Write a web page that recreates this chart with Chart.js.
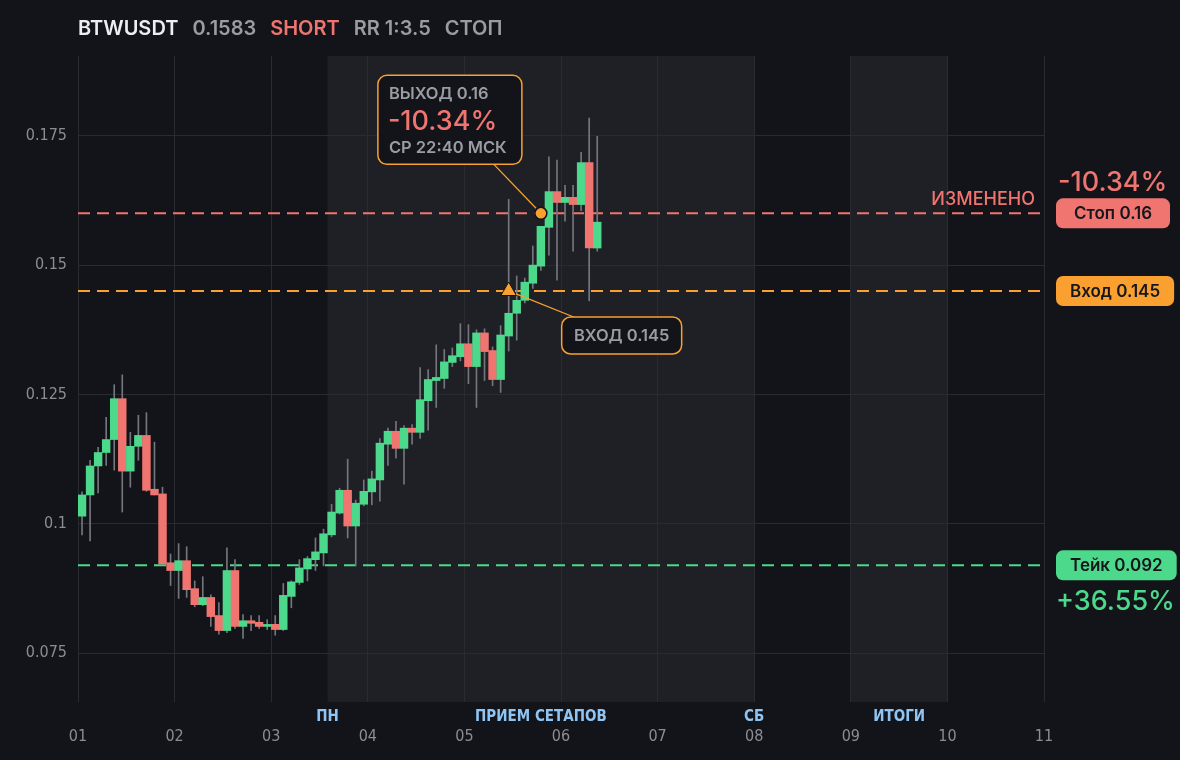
<!DOCTYPE html>
<html>
<head>
<meta charset="utf-8">
<title>BTWUSDT</title>
<script src="https://cdn.jsdelivr.net/npm/chart.js@4.4.1/dist/chart.umd.min.js"></script>
<style>
  html, body { margin: 0; padding: 0; background: #131419; }
  #wrap { position: relative; width: 1180px; height: 760px; }
</style>
</head>
<body>
<div id="wrap"><canvas id="chart"></canvas></div>
<script>
// header
const symbol = 'BTWUSDT';
const lastPrice = '0.1583';
const side = 'SHORT';
const riskReward = 'RR 1:3.5';
const tradeStatus = 'СТОП';

// 2h candles, day 01 .. day 06
const opens = [0.1015, 0.1056, 0.1112, 0.1138, 0.1163, 0.1242, 0.1102, 0.1150, 0.1171, 0.1067,
  0.1058, 0.0925, 0.0910, 0.0929, 0.0875, 0.0844, 0.0858, 0.0823, 0.0794, 0.0910,
  0.0802, 0.0813, 0.0810, 0.0802, 0.0806, 0.0796, 0.0860, 0.0887, 0.0913, 0.0931,
  0.0944, 0.0979, 0.1021, 0.1065, 0.0996, 0.1038, 0.1062, 0.1085, 0.1154, 0.1179,
  0.1146, 0.1185, 0.1177, 0.1238, 0.1277, 0.1281, 0.1312, 0.1323, 0.1348, 0.1304,
  0.1369, 0.1335, 0.1279, 0.1363, 0.1407, 0.1432, 0.1465, 0.1498, 0.1573, 0.1642,
  0.1621, 0.1631, 0.1617, 0.1698, 0.1533];
const highs = [0.1062, 0.1123, 0.1148, 0.1206, 0.1269, 0.1288, 0.1177, 0.1210, 0.1215, 0.1158,
  0.1071, 0.0942, 0.0962, 0.0956, 0.0890, 0.0898, 0.0863, 0.0848, 0.0954, 0.0931,
  0.0825, 0.0823, 0.0823, 0.0815, 0.0823, 0.0885, 0.0890, 0.0931, 0.0937, 0.0973,
  0.0990, 0.1038, 0.1069, 0.1125, 0.1046, 0.1085, 0.1102, 0.1165, 0.1185, 0.1198,
  0.1190, 0.1192, 0.1302, 0.1298, 0.1346, 0.1337, 0.1340, 0.1387, 0.1385, 0.1375,
  0.1377, 0.1342, 0.1383, 0.1627, 0.1479, 0.1475, 0.1537, 0.1575, 0.1709, 0.1703,
  0.1654, 0.1654, 0.1718, 0.1784, 0.1749];
const lows = [0.0979, 0.0967, 0.1060, 0.1113, 0.1104, 0.1023, 0.1071, 0.1123, 0.1063, 0.1056,
  0.0923, 0.0881, 0.0856, 0.0858, 0.0840, 0.0842, 0.0802, 0.0787, 0.0790, 0.0798,
  0.0779, 0.0794, 0.0798, 0.0796, 0.0785, 0.0794, 0.0838, 0.0883, 0.0890, 0.0910,
  0.0919, 0.0975, 0.1019, 0.0973, 0.0919, 0.1035, 0.1037, 0.1044, 0.1113, 0.1127,
  0.1077, 0.1154, 0.1165, 0.1181, 0.1225, 0.1262, 0.1304, 0.1315, 0.1271, 0.1225,
  0.1277, 0.1267, 0.1254, 0.1334, 0.1355, 0.1427, 0.1455, 0.1490, 0.1519, 0.1471,
  0.1585, 0.1527, 0.1605, 0.1431, 0.1527];
const closes = [0.1056, 0.1112, 0.1138, 0.1163, 0.1242, 0.1102, 0.1150, 0.1171, 0.1065, 0.1056,
  0.0923, 0.0910, 0.0929, 0.0873, 0.0844, 0.0858, 0.0821, 0.0794, 0.0910, 0.0802,
  0.0813, 0.0808, 0.0802, 0.0805, 0.0796, 0.0862, 0.0888, 0.0915, 0.0933, 0.0946,
  0.0981, 0.1023, 0.1065, 0.0996, 0.1040, 0.1063, 0.1087, 0.1156, 0.1179, 0.1146,
  0.1185, 0.1177, 0.1240, 0.1279, 0.1283, 0.1313, 0.1325, 0.1348, 0.1304, 0.1369,
  0.1333, 0.1279, 0.1365, 0.1407, 0.1432, 0.1467, 0.1500, 0.1575, 0.1642, 0.1621,
  0.1631, 0.1617, 0.1698, 0.1533, 0.1583];

const dayTicks = [1, 2, 3, 4, 5, 6, 7, 8, 9, 10, 11];
const priceTicks = [0.075, 0.1, 0.125, 0.15, 0.175];

// trade levels
const stopPrice = 0.16;
const entryPrice = 0.145;
const takePrice = 0.092;
const entryCandle = 53;
const exitCandle = 57;
const stopChange = '-10.34%';
const takeChange = '+36.55%';
const exitTime = 'СР 22:40 МСК';

// week sessions on the time axis
const sessionStarts = [3 + 7 / 12, 9];
const sessionEnds = [8, 10];
const sessionNames = ['ПРИЕМ СЕТАПОВ', 'ИТОГИ'];
const sessionStartNames = ['ПН', ''];
const sessionEndNames = ['СБ', ''];

const GREEN = '#4cd98b';
const RED = '#f07570';
const ORANGE = '#f9a030';
const GRAY = '#9a9ca3';
const BG = '#131419';
const TICK_FONT = '"Liberation Sans Narrow", "DejaVu Sans Condensed", Roboto, sans-serif';

const candleTimes = opens.map((o, i) => 1 + (i + 0.5) / 12);
const bodyColors = opens.map((o, i) => closes[i] >= o ? GREEN : RED);

function levelLine(price, color) {
  return {
    type: 'line',
    data: [{ x: 1, y: price }, { x: 11, y: price }],
    borderColor: color,
    borderWidth: 2,
    borderDash: [12, 7],
    pointRadius: 0,
    order: 3
  };
}

function roundRect(ctx, x, y, w, h, r) {
  ctx.beginPath();
  ctx.moveTo(x + r, y);
  ctx.arcTo(x + w, y, x + w, y + h, r);
  ctx.arcTo(x + w, y + h, x, y + h, r);
  ctx.arcTo(x, y + h, x, y, r);
  ctx.arcTo(x, y, x + w, y, r);
  ctx.closePath();
}

function connector(ctx, x0, y0, x1, y1, gap) {
  const len = Math.hypot(x1 - x0, y1 - y0);
  const ex = x1 - (x1 - x0) / len * gap;
  const ey = y1 - (y1 - y0) / len * gap;
  ctx.beginPath();
  ctx.moveTo(x0, y0);
  ctx.lineTo(ex, ey);
  ctx.stroke();
}

const decor = {
  id: 'decor',
  beforeDraw(chart) {
    const { ctx, chartArea: a, scales: { x } } = chart;
    ctx.save();
    ctx.fillStyle = '#1f2026';
    sessionStarts.forEach((s, i) => {
      const x0 = x.getPixelForValue(s);
      const x1 = x.getPixelForValue(sessionEnds[i]);
      ctx.fillRect(x0, a.top, x1 - x0, a.bottom - a.top);
    });
    ctx.restore();
  },
  afterDatasetsDraw(chart) {
    const { ctx, scales: { x, y } } = chart;
    const ex = x.getPixelForValue(candleTimes[exitCandle]);
    const ey = y.getPixelForValue(stopPrice);
    const nx = x.getPixelForValue(candleTimes[entryCandle]);
    const ny = y.getPixelForValue(entryPrice);
    ctx.save();
    ctx.strokeStyle = ORANGE;
    ctx.lineWidth = 1.3;
    connector(ctx, ex - 47, ey - 49, ex, ey, 7);
    connector(ctx, nx + 65, ny + 26, nx, ny, 8);
    ctx.restore();
  },
  afterDraw(chart) {
    const { ctx, chartArea: a, scales: { x, y } } = chart;
    ctx.save();
    ctx.textBaseline = 'middle';

    // header
    let hx = 78;
    ctx.font = '600 20px Inter';
    [[symbol, '#eceef2'], [lastPrice, GRAY], [side, RED], [riskReward, GRAY], [tradeStatus, GRAY]].forEach(([t, c]) => {
      ctx.fillStyle = c;
      ctx.textAlign = 'left';
      ctx.fillText(t, hx, 29);
      hx += ctx.measureText(t).width + 14;
    });

    // session labels under the plot
    ctx.font = 'bold 15px ' + TICK_FONT;
    ctx.fillStyle = '#8ec5f5';
    ctx.textAlign = 'center';
    sessionStarts.forEach((s, i) => {
      const x0 = x.getPixelForValue(s);
      const x1 = x.getPixelForValue(sessionEnds[i]);
      ctx.fillText(sessionNames[i], (x0 + x1) / 2, 717);
      if (sessionStartNames[i]) ctx.fillText(sessionStartNames[i], x0, 717);
      if (sessionEndNames[i]) ctx.fillText(sessionEndNames[i], x1, 717);
    });

    // right side price tags
    const px = a.right + 12;
    const sy = y.getPixelForValue(stopPrice);
    const ny = y.getPixelForValue(entryPrice);
    const ty = y.getPixelForValue(takePrice);
    ctx.font = '600 17px Inter';
    [['Стоп ' + stopPrice, sy, RED], ['Вход ' + entryPrice, ny, ORANGE], ['Тейк ' + takePrice, ty, GREEN]].forEach(([t, py, c]) => {
      const w = Math.max(114, ctx.measureText(t).width + 28);
      ctx.fillStyle = c;
      roundRect(ctx, px, py - 15, w, 30, 7);
      ctx.fill();
      ctx.fillStyle = '#16171c';
      ctx.textAlign = 'center';
      ctx.fillText(t, px + w / 2, py + 1);
    });
    ctx.font = '500 27px Inter';
    ctx.textAlign = 'left';
    ctx.fillStyle = RED;
    ctx.fillText(stopChange, px + 2, sy - 30);
    ctx.fillStyle = GREEN;
    ctx.fillText(takeChange, px, ty + 37);
    ctx.font = '500 18px Inter';
    ctx.fillStyle = RED;
    ctx.textAlign = 'right';
    ctx.fillText('ИЗМЕНЕНО', a.right - 9, sy - 14);

    // exit callout
    const ex = x.getPixelForValue(candleTimes[exitCandle]);
    const bx = ex - 163, by = sy - 138;
    roundRect(ctx, bx, by, 144, 89, 9);
    ctx.fillStyle = BG;
    ctx.fill();
    ctx.strokeStyle = ORANGE;
    ctx.lineWidth = 1.5;
    ctx.stroke();
    ctx.textAlign = 'left';
    ctx.font = '600 16.5px Inter';
    ctx.fillStyle = GRAY;
    ctx.fillText('ВЫХОД ' + stopPrice, bx + 11, by + 19);
    ctx.font = '500 27px Inter';
    ctx.fillStyle = RED;
    ctx.fillText(stopChange, bx + 10, by + 47);
    ctx.font = '600 16.5px Inter';
    ctx.fillStyle = GRAY;
    ctx.fillText(exitTime, bx + 11, by + 73);

    // entry callout
    const nx = x.getPixelForValue(candleTimes[entryCandle]);
    const cx = nx + 53, cy = ny + 26;
    roundRect(ctx, cx, cy, 120, 37, 9);
    ctx.fillStyle = BG;
    ctx.fill();
    ctx.strokeStyle = ORANGE;
    ctx.stroke();
    ctx.textAlign = 'center';
    ctx.fillStyle = GRAY;
    ctx.font = '600 16.5px Inter';
    ctx.fillText('ВХОД ' + entryPrice, cx + 60, cy + 19);
    ctx.restore();
  }
};

new Chart(document.getElementById('chart'), {
  type: 'bar',
  data: {
    datasets: [
      levelLine(stopPrice, RED),
      levelLine(entryPrice, ORANGE),
      levelLine(takePrice, GREEN),
      {
        data: candleTimes.map((t, i) => ({ x: t, y: [lows[i], highs[i]] })),
        backgroundColor: '#74767d',
        barThickness: 1,
        grouped: false,
        order: 2
      },
      {
        data: candleTimes.map((t, i) => ({ x: t, y: [opens[i], closes[i]] })),
        backgroundColor: bodyColors,
        barThickness: 7.8,
        minBarLength: 2,
        grouped: false,
        order: 1
      },
      {
        type: 'line',
        data: [{ x: candleTimes[entryCandle], y: entryPrice }],
        showLine: false,
        pointStyle: 'triangle',
        pointRadius: 9,
        backgroundColor: ORANGE,
        borderColor: BG,
        borderWidth: 1,
        order: 0
      },
      {
        type: 'line',
        data: [{ x: candleTimes[exitCandle], y: stopPrice }],
        showLine: false,
        pointStyle: 'circle',
        pointRadius: 6,
        backgroundColor: ORANGE,
        borderColor: BG,
        borderWidth: 1.5,
        order: 0
      }
    ]
  },
  options: {
    responsive: true,
    maintainAspectRatio: false,
    animation: false,
    layout: { padding: { top: 56, right: 136, left: 0, bottom: 0 } },
    plugins: { legend: { display: false }, tooltip: { enabled: false } },
    scales: {
      x: {
        type: 'linear',
        min: 1,
        max: 11,
        offset: false,
        afterFit: s => { s.height = 58; },
        afterBuildTicks: s => { s.ticks = dayTicks.map(v => ({ value: v })); },
        grid: { color: '#2a2b31', offset: false, drawTicks: false },
        border: { display: false },
        ticks: {
          padding: 25,
          color: '#8b8d94',
          font: { family: TICK_FONT, size: 16 },
          callback: v => String(v).padStart(2, '0')
        }
      },
      y: {
        min: 0.0656,
        max: 0.1904,
        afterFit: s => { s.width = 78; },
        afterBuildTicks: s => { s.ticks = priceTicks.map(v => ({ value: v })); },
        grid: { color: '#2a2b31', drawTicks: false },
        border: { display: false },
        ticks: {
          padding: 11,
          color: '#8b8d94',
          font: { family: TICK_FONT, size: 16 },
          callback: v => String(v)
        }
      }
    }
  },
  plugins: [decor]
});
</script>
</body>
</html>
